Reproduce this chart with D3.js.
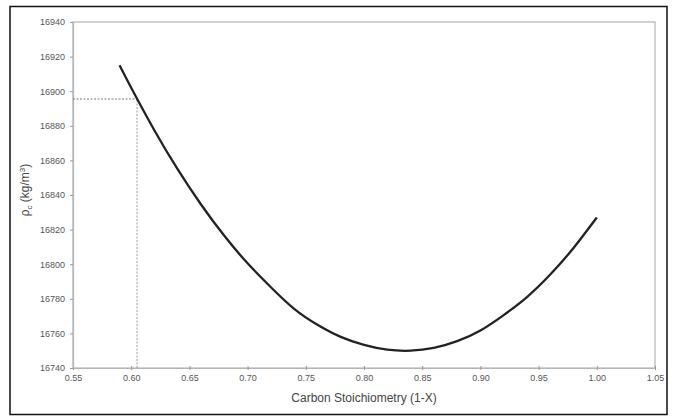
<!DOCTYPE html>
<html><head><meta charset="utf-8">
<script src="https://cdn.jsdelivr.net/npm/d3@7"></script>
<style>body{margin:0;background:#fff}svg{display:block}text{font-family:"Liberation Sans",Arial,sans-serif}</style>
</head><body>
<script>
const xValues = [0.59,0.60,0.62,0.64,0.66,0.68,0.70,0.72,0.74,0.76,0.78,0.80,0.82,0.84,0.86,0.88,0.90,0.92,0.94,0.96,0.98,1.00];
const densityValues = [16915,16902,16877.3,16854.8,16834.5,16816.4,16800.5,16786.7,16774.2,16765,16758,16753.4,16750.6,16750,16751.6,16755.5,16761.7,16770.6,16781,16794,16809.4,16827];
const xTicks = [0.55,0.60,0.65,0.70,0.75,0.80,0.85,0.90,0.95,1.00,1.05];
const yTicks = [16740,16760,16780,16800,16820,16840,16860,16880,16900,16920,16940];
const refX = 0.605, refY = 16895.5;

const W=674,H=416;
const L=73,R=655,T=22,B=368;
const svg=d3.select("body").append("svg").attr("width",W).attr("height",H);
svg.append("rect").attr("width",W).attr("height",H).attr("fill","#fff");
svg.append("rect").attr("x",10).attr("y",6.5).attr("width",657).attr("height",408)
  .attr("fill","none").attr("stroke","#111").attr("stroke-width",1.5);

const x=d3.scaleLinear().domain([0.55,1.05]).range([L,R]);
const y=d3.scaleLinear().domain([16740,16940]).range([B,T]);

// frame
svg.append("rect").attr("x",L).attr("y",T).attr("width",R-L).attr("height",B-T)
  .attr("fill","none").attr("stroke","#b4b4b4").attr("stroke-width",1.2);

const xAxis=svg.append("g").attr("transform",`translate(0,${B})`)
  .call(d3.axisBottom(x).tickValues(xTicks).tickFormat(d3.format(".2f")).tickSizeInner(3).tickSizeOuter(0).tickPadding(4));
const yAxis=svg.append("g").attr("transform",`translate(${L},0)`)
  .call(d3.axisLeft(y).tickValues(yTicks).tickFormat(d3.format("d")).tickSizeInner(3).tickSizeOuter(0).tickPadding(5));
[xAxis,yAxis].forEach(g=>{
  g.select(".domain").attr("stroke","#b4b4b4").attr("stroke-width",1.2);
  g.selectAll(".tick line").attr("stroke","#999");
  g.selectAll(".tick text").attr("fill","#555").style("font-size","9px");
});
xAxis.selectAll(".tick line").attr("y1",-2).attr("y2",2);

// reference dotted lines
svg.append("line").attr("x1",x(0.55)).attr("x2",x(refX)).attr("y1",y(refY)).attr("y2",y(refY))
  .attr("stroke","#777").attr("stroke-width",1).attr("stroke-dasharray","2,1.5");
svg.append("line").attr("x1",x(refX)).attr("x2",x(refX)).attr("y1",y(16740)).attr("y2",y(refY))
  .attr("stroke","#999").attr("stroke-width",1).attr("stroke-dasharray","2,1.5");

const data=xValues.map((v,i)=>[v,densityValues[i]]);
svg.append("path").datum(data)
  .attr("d",d3.line().x(d=>x(d[0])).y(d=>y(d[1])).curve(d3.curveNatural))
  .attr("fill","none").attr("stroke","#222").attr("stroke-width",2.3);

svg.append("text").attr("x",(L+R)/2).attr("y",402).attr("text-anchor","middle")
  .attr("fill","#444").style("font-size","12px").text("Carbon Stoichiometry (1-X)");

const yt=svg.append("text").attr("transform",`translate(29,190) rotate(-90)`).attr("text-anchor","middle")
  .attr("fill","#444").style("font-size","12px");
yt.append("tspan").text("ρ");
yt.append("tspan").attr("dy",3).style("font-size","8px").text("c");
yt.append("tspan").attr("dy",-3).text(" (kg/m");
yt.append("tspan").attr("dy",-4).style("font-size","8px").text("3");
yt.append("tspan").attr("dy",4).text(")");
</script>
</body></html>
